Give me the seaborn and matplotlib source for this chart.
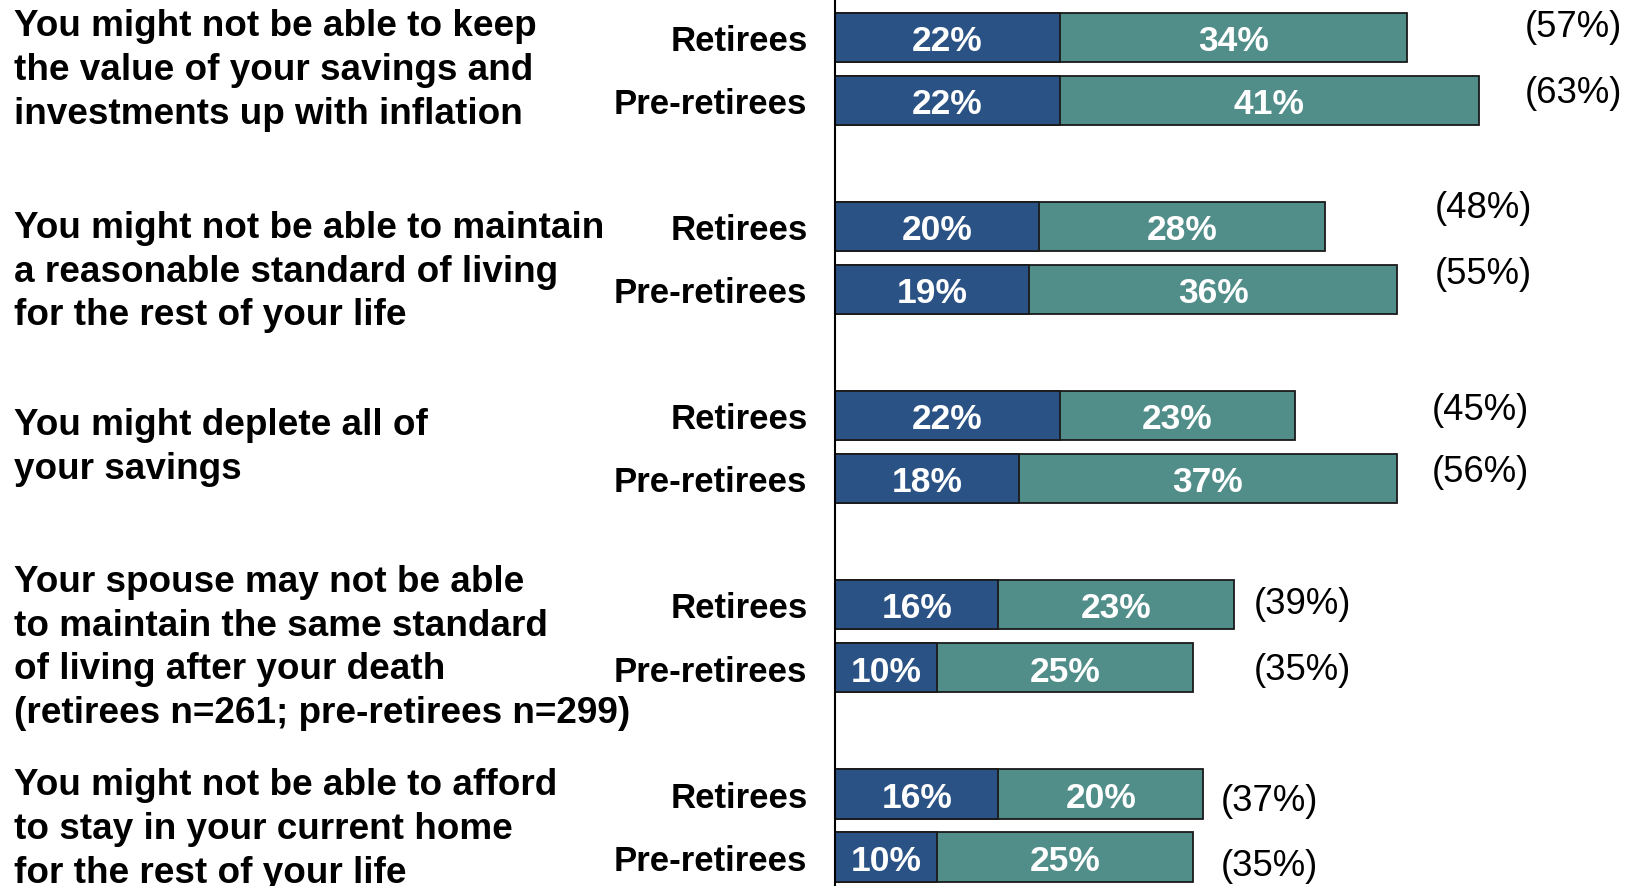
import matplotlib
matplotlib.use("Agg")
import matplotlib.pyplot as plt
import matplotlib.transforms as mtransforms
import numpy as np
import pandas as pd
import seaborn as sns

# --- data -------------------------------------------------------------
questions = [
    "You might not be able to keep\nthe value of your savings and\ninvestments up with inflation",
    "You might not be able to maintain\na reasonable standard of living\nfor the rest of your life",
    "You might deplete all of\nyour savings",
    "Your spouse may not be able\nto maintain the same standard\nof living after your death\n(retirees n=261; pre-retirees n=299)",
    "You might not be able to afford\nto stay in your current home\nfor the rest of your life",
]
groups = ["Retirees", "Pre-retirees"]

retirees_very = [22, 20, 22, 16, 16]
retirees_somewhat = [34, 28, 23, 23, 20]
retirees_total = [57, 48, 45, 39, 37]

pre_very = [22, 19, 18, 10, 10]
pre_somewhat = [41, 36, 37, 25, 25]
pre_total = [63, 55, 56, 35, 35]

# --- layout -----------------------------------------------------------
total_label_x = [67.5, 58.7, 58.4, 41.0, 37.8]
total_label_dy = [(-0.22, -0.17), (-0.36, -0.31), (-0.15, -0.16), (-0.07, -0.02), (0.05, 0.08)]
question_dy = [-0.04, 0.16, -0.06, 0.12, 0.0]
TEXT_DY = 0.05  # nudges labels so their cap height sits centred on the bar

BLUE = "#2A5284"
TEAL = "#518E8A"
EDGE = "#1a1a1a"

rows = []
for i in range(len(questions)):
    for j, (very, some, tot) in enumerate([
        (retirees_very[i], retirees_somewhat[i], retirees_total[i]),
        (pre_very[i], pre_somewhat[i], pre_total[i]),
    ]):
        rows.append({"pos": 3 * i + j, "group": groups[j], "question": i,
                     "very": very, "somewhat": some,
                     "stack": very + some, "total": tot})
df = pd.DataFrame(rows)

sns.set_theme(style="white")
plt.rcParams["font.family"] = ["Liberation Sans", "DejaVu Sans"]

fig = plt.figure(figsize=(16.32, 8.87), dpi=100)
ax = fig.add_axes([835 / 1632, 0, 1 - 835 / 1632, 1])

bar_kw = dict(orient="h", native_scale=True, width=0.78, errorbar=None,
              edgecolor=EDGE, linewidth=1.3, ax=ax)
sns.barplot(data=df, x="stack", y="pos", color=TEAL, saturation=1, **bar_kw)
sns.barplot(data=df, x="very", y="pos", color=BLUE, saturation=1, **bar_kw)

ax.set_xlim(0, 78)
ax.set_ylim(13.46, -0.61)
ax.set_xlabel("")
ax.set_ylabel("")
ax.set_xticks([])
ax.set_yticks([])
for side in ["top", "right", "bottom"]:
    ax.spines[side].set_visible(False)
ax.spines["left"].set_color("black")
ax.spines["left"].set_linewidth(1.5)

for _, r in df.iterrows():
    y = r["pos"] + TEXT_DY
    ax.text(r["very"] / 2, y, f"{r['very']}%", ha="center", va="center",
            color="white", fontsize=25.5, fontweight="bold")
    ax.text(r["very"] + r["somewhat"] / 2, y, f"{r['somewhat']}%", ha="center",
            va="center", color="white", fontsize=25.5, fontweight="bold")
    ax.text(-2.7, y, r["group"], ha="right", va="center", color="black",
            fontsize=25, fontweight="bold", clip_on=False)
    qi = r["question"]
    dy = total_label_dy[qi][int(r["pos"]) % 3]
    ax.text(total_label_x[qi], y + dy, f"({r['total']}%)", ha="left",
            va="center", color="black", fontsize=26.3, clip_on=False)

trans = mtransforms.blended_transform_factory(fig.transFigure, ax.transData)
for i, q in enumerate(questions):
    ax.text(13.5 / 1632, 3 * i + 0.5 + question_dy[i] + TEXT_DY, q, transform=trans,
            ha="left", va="center", fontsize=26.6, fontweight="bold",
            color="black", linespacing=1.32, clip_on=False)

fig.savefig("out.png", dpi=100)
